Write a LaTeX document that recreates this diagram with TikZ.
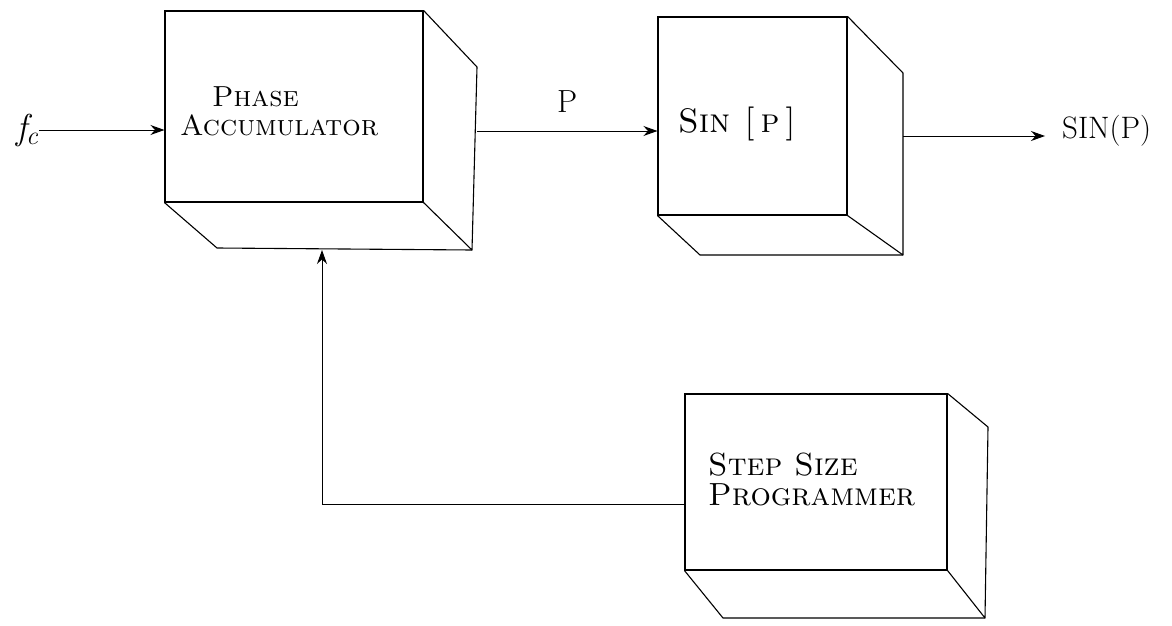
\documentclass[tikz,border=0pt]{standalone}
\usepackage{tikz}
\usetikzlibrary{arrows.meta, positioning, calc}

\tikzset{
  front/.style={draw, line width=1.1pt, inner sep=0pt},
  face/.style={line width=1.1pt, line join=round},
  boxtext/.style={font=\fontsize{29}{35}\selectfont\scshape, align=left, inner sep=0pt},
  link/.style={line width=1pt, -{Stealth[length=14pt, width=10pt]}}
}

\begin{document}
\begin{tikzpicture}[x=1pt, y=-1pt]
    \useasboundingbox (0,0) rectangle (1172,626);

    % Phase accumulator
    \node[front, minimum width=258pt, minimum height=191pt] (acc) at (294,106.5) {};
    \coordinate (acc-tr) at (477,67);
    \coordinate (acc-br) at (472,250);
    \coordinate (acc-bl) at (217,248);
    \draw[face] (acc.north east) -- (acc-tr) -- (acc-br) -- (acc.south east);
    \draw[face] (acc.south west) -- (acc-bl) -- (acc-br);
    \node[boxtext, anchor=west] (acc-txt) at (180,111) {\hspace*{32pt}Phase\\[-6pt]Accumulator};

    % Sin look-up
    \node[front, minimum width=189pt, minimum height=198pt] (sin) at (752.5,116) {};
    \coordinate (sin-tr) at (903,73);
    \coordinate (sin-br) at (903,255);
    \coordinate (sin-bl) at (700,255);
    \draw[face] (sin.north east) -- (sin-tr) -- (sin-br) -- (sin.south east);
    \draw[face] (sin.south west) -- (sin-bl) -- (sin-br);
    \node[boxtext, font=\fontsize{34}{40}\selectfont\scshape, anchor=west] (sin-txt) at (678,124) {Sin\hspace{14pt}[\,p\,]};

    % Step size programmer
    \node[front, minimum width=262pt, minimum height=176pt] (step) at (816,482) {};
    \coordinate (step-tr) at (988,427);
    \coordinate (step-br) at (985,618);
    \coordinate (step-bl) at (723,618);
    \draw[face] (step.north east) -- (step-tr) -- (step-br) -- (step.south east);
    \draw[face] (step.south west) -- (step-bl) -- (step-br);
    \node[boxtext, font=\fontsize{32}{38}\selectfont\scshape, anchor=west] (step-txt) at (708,479) {Step Size\\[-8pt]Programmer};

    % Signals
    \node[font=\fontsize{36}{40}\selectfont\itshape, anchor=east, inner sep=1pt] (fc) at (39,130)
        {f\kern-1pt\raisebox{-5pt}{\fontsize{26}{30}\selectfont c}};
    \draw[link] (fc.east) -- (fc.east -| acc.west);

    \coordinate (acc-out) at (477,131);
    \draw[link] (acc-out) -- (acc-out -| sin.west)
        node[midway, above=15pt, font=\fontsize{32}{36}\selectfont] (p-lbl) {P};

    \coordinate (sin-out) at (903,136);
    \coordinate (sin-end) at (1045,136);
    \draw[link] (sin-out) -- (sin-end);
    \node[font=\fontsize{31}{36}\selectfont, anchor=west, inner sep=0pt] (out-lbl) at (1062,131) {SIN(P)};

    % Feedback
    \coordinate (step-in) at (step.west |- 0,504);
    \coordinate (acc-fb) at (322,250);
    \draw[link] (step-in) -| (acc-fb);
\end{tikzpicture}
\end{document}
